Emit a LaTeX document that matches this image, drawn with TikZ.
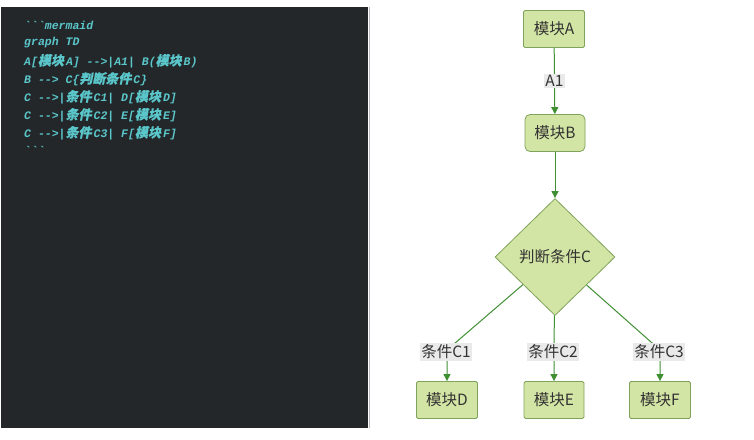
\documentclass[tikz,border=0pt]{standalone}
\usepackage{fontspec}
\setmonofont{Liberation Mono}
\newfontfamily\cjk{Noto Sans CJK SC}
\newfontfamily\cjkcode[FakeSlant=0.2,FakeBold=0.6]{Noto Sans CJK SC}
\usetikzlibrary{arrows.meta,positioning,shapes.geometric}

\definecolor{panelbg}{HTML}{23272A}
\definecolor{panelrim}{HTML}{B8BCC0}
\definecolor{codecyan}{HTML}{5BC6C9}
\definecolor{nodefill}{HTML}{D3E5A4}
\definecolor{nodeline}{HTML}{7FA35A}
\definecolor{edgegreen}{HTML}{3F8F32}
\definecolor{labelbg}{HTML}{EAEAEA}
\definecolor{nodetext}{HTML}{333333}

\newcommand{\zh}[1]{{\cjkcode\fontsize{13}{14}\selectfont #1}\hspace{2pt}}

\begin{document}
\begin{tikzpicture}[
		x=1pt, y=-1pt,
		line join=round,
		>={Triangle[length=7pt,width=7pt]},
		codeline/.style={anchor=west, text=codecyan, inner sep=0pt,
			font=\ttfamily\bfseries\itshape\fontsize{11.5}{13}\selectfont},
		modbox/.style={draw=nodeline, fill=nodefill, line width=0.8pt, text=nodetext,
			font=\cjk\fontsize{15.5}{17}\selectfont, minimum width=61pt, minimum height=37pt,
			inner sep=0pt, rounded corners=1.5pt},
		roundbox/.style={modbox, rounded corners=5pt},
		decision/.style={diamond, aspect=1, draw=nodeline, fill=nodefill, line width=0.8pt,
			text=nodetext, font=\cjk\fontsize{15.5}{17}\selectfont,
			minimum width=120pt, minimum height=117pt, inner sep=0pt},
		flow/.style={->, draw=edgegreen, line width=1pt},
		edgelab/.style={fill=labelbg, text=nodetext, inner sep=1.5pt,
			font=\cjk\fontsize{15.5}{17}\selectfont}
	]
	
	\useasboundingbox (0,0) rectangle (754,439);
	
	% Code panel
	\fill[panelbg] (1,7) rectangle (368,428);
	\draw[panelrim, line width=1pt] (369,7) -- (369,428);
	
	\node[codeline] (code1) at (24,25) {```mermaid};
	\node[codeline] (code2) at (24,43) {graph TD};
	\node[codeline] (code3) at (24,61) {A[\zh{模块}A] -->|A1| B(\zh{模块}B)};
	\node[codeline] (code4) at (24,79) {B --> C\{\zh{判断条件}C\}};
	\node[codeline] (code5) at (24,97) {C -->|\zh{条件}C1| D[\zh{模块}D]};
	\node[codeline] (code6) at (24,115) {C -->|\zh{条件}C2| E[\zh{模块}E]};
	\node[codeline] (code7) at (24,133) {C -->|\zh{条件}C3| F[\zh{模块}F]};
	\node[codeline] (code8) at (24,150) {```};
	
	% Flowchart
	\node[modbox] (modA) at (554,29) {模块A};
	\node[roundbox, minimum width=60pt] (modB) at (555,133) {模块B};
	\node[decision] (condC) at (555,257) {判断条件C};
	\node[modbox] (modD) at (447,400) {模块D};
	\node[modbox, minimum width=60pt] (modE) at (554,400) {模块E};
	\node[modbox] (modF) at (660,400) {模块F};
	
	\coordinate (bendD) at (447,350);
	\coordinate (bendE) at (554,350);
	\coordinate (bendF) at (660,350);
	
	\draw[flow] (modA) -- node[edgelab] (labA1) {A1} (modB);
	\draw[flow] (modB) -- (condC);
	\draw[flow] (condC) -- (bendD) -- (modD);
	\draw[flow] (condC) -- (bendE) -- (modE);
	\draw[flow] (condC) -- (bendF) -- (modF);
	
	\node[edgelab] (labC1) at (446,352) {条件C1};
	\node[edgelab] (labC2) at (553,352) {条件C2};
	\node[edgelab] (labC3) at (659,352) {条件C3};
	
\end{tikzpicture}
\end{document}
